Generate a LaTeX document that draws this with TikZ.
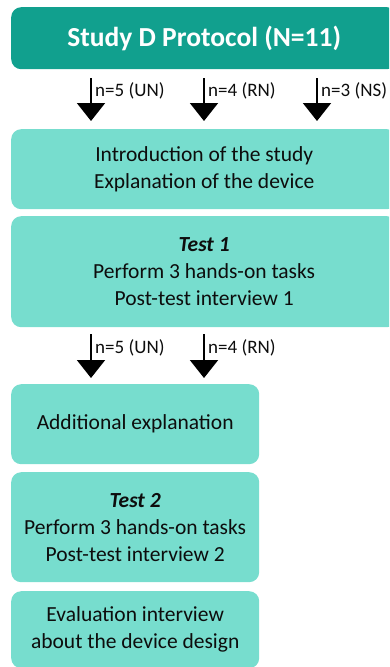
\documentclass[tikz,border=0pt]{standalone}
\usepackage{fontspec}
\setmainfont{Carlito}
\usetikzlibrary{arrows.meta}
\definecolor{headteal}{RGB}{17,160,142}
\definecolor{boxteal}{RGB}{119,221,206}
\definecolor{ink}{RGB}{13,13,13}

\begin{document}
\begin{tikzpicture}[x=1pt,y=-1pt,
  stage/.style={fill=boxteal, rounded corners=10pt, text=ink, inner sep=0pt,
    font=\fontsize{21.5}{27}\selectfont, align=center, anchor=north west},
  header/.style={fill=headteal, rounded corners=10pt, text=white, inner sep=0pt,
    font=\fontsize{27.5}{33}\selectfont\bfseries, anchor=north west},
  flow/.style={line width=2pt, draw=black,
    -{Triangle[width=28pt,length=18pt]}},
  count/.style={anchor=west, inner sep=0pt, text=ink,
    font=\fontsize{19}{22}\selectfont}
]
\useasboundingbox (0,0) rectangle (389,667);
\clip (0,0) rectangle (389,667);

% boxes of the protocol
\node[header, minimum width=386, minimum height=62] (title) at (11,7)
  {Study D Protocol (N=11)};
\node[stage, minimum width=386, minimum height=80] (intro) at (11,129)
  {Introduction of the study\\Explanation of the device};
\node[stage, minimum width=386, minimum height=111] (test1) at (11,216)
  {\textbf{\textit{Test 1}}\\Perform 3 hands-on tasks\\Post-test interview 1};
\node[stage, minimum width=248, minimum height=80] (extra) at (11,384)
  {Additional explanation};
\node[stage, minimum width=248, minimum height=110] (test2) at (11,472)
  {\textbf{\textit{Test 2}}\\Perform 3 hands-on tasks\\Post-test interview 2};
\node[stage, minimum width=248, minimum height=77] (eval) at (11,591)
  {Evaluation interview\\about the device design};

% group splits between title and introduction
\foreach \gx/\lab in {91/{n=5 (UN)}, 204/{n=4 (RN)}, 317/{n=3 (NS)}}{
  \draw[flow, shorten <=9pt, shorten >=8pt]
    (title.south -| \gx,0) -- (intro.north -| \gx,0);
  \node[count] at (\gx+4,91) {\lab};
}

% group splits between Test 1 and the additional explanation
\foreach \gx/\lab in {91/{n=5 (UN)}, 204/{n=4 (RN)}}{
  \draw[flow, shorten <=7pt, shorten >=6pt]
    (test1.south -| \gx,0) -- (extra.north -| \gx,0);
  \node[count] at (\gx+4,348) {\lab};
}
\end{tikzpicture}
\end{document}
